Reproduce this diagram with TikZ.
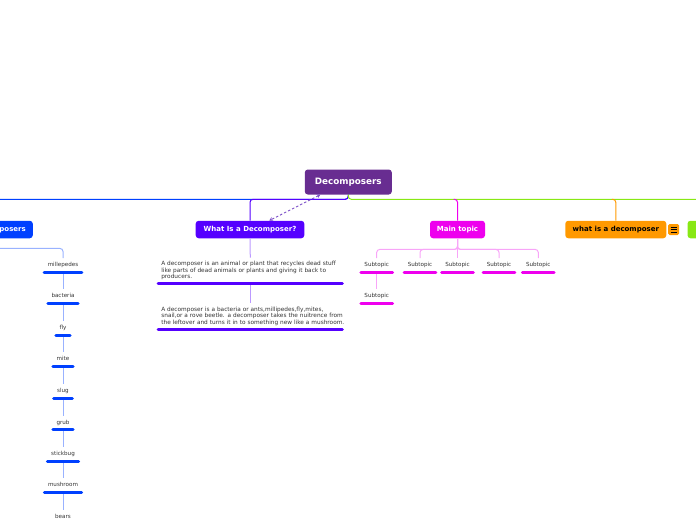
\documentclass[tikz,border=0pt]{standalone}
\usepackage{fontspec}
\setmainfont{DejaVu Sans}
\usetikzlibrary{arrows.meta,calc}
\definecolor{rootc}{RGB}{104,45,145}
\definecolor{bluec}{RGB}{0,64,255}
\definecolor{bluelight}{RGB}{153,178,255}
\definecolor{purplec}{RGB}{85,0,255}
\definecolor{purplelight}{RGB}{187,153,255}
\definecolor{magc}{RGB}{238,0,238}
\definecolor{maglight}{RGB}{248,165,248}
\definecolor{orangec}{RGB}{255,153,0}
\definecolor{greenc}{RGB}{136,232,20}
\definecolor{arrowc}{RGB}{125,80,200}
\definecolor{textc}{RGB}{51,51,51}
\begin{document}
\begin{tikzpicture}[x=1pt,y=-1pt,
  every node/.style={inner sep=0pt},
  rootbox/.style={fill=rootc, rounded corners=3pt, minimum width=87pt, minimum height=25pt, text=white, font=\fontsize{8.8}{10}\selectfont\bfseries},
  branchbox/.style={rounded corners=3pt, minimum height=17.5pt, text=white, font=\fontsize{7}{8}\selectfont\bfseries},
  leaf/.style={anchor=base, font=\fontsize{5.6}{6.5}\selectfont, text=textc, inner xsep=3.5pt, inner ysep=4.3pt, text height=4pt, text depth=1pt},
  block/.style={anchor=south, font=\fontsize{5.8}{6.5}\selectfont, text=textc, align=left, text width=178pt, inner xsep=2.9pt, inner ysep=3.5pt},
  conn/.style={line width=1pt, rounded corners=3pt},
  subconn/.style={line width=1pt, rounded corners=3pt},
  uline/.style={line width=3pt, line cap=round},
]
\useasboundingbox (0,0) rectangle (696,520);

% main nodes
\node[rootbox] (root) at (348.3,182) {Decomposers};
\node[branchbox, fill=bluec, anchor=east, inner xsep=7pt] (dec) at (33,229.5) {Examples of Decomposers};
\node[branchbox, fill=purplec, minimum width=108.6pt] (wd) at (250,229.5) {What Is a Decomposer?};
\node[branchbox, fill=magc, minimum width=55pt] (mt) at (457.5,229.5) {Main topic};
\node[branchbox, fill=orangec, text=black, minimum width=101pt] (wi) at (615.8,229.5) {what is a decomposer};
\node[fill=orangec, rounded corners=1.5pt, minimum size=11pt] (ic) at (673.7,229.5) {};
\node[branchbox, fill=greenc, minimum width=60pt, anchor=west] (gr) at (687.3,229.5) {};
\draw[black, line width=0.7pt] ($(ic.center)+(-3,-2.6)$) -- ($(ic.center)+(3,-2.6)$)
  ($(ic.center)+(-3,0)$) -- ($(ic.center)+(3,0)$)
  ($(ic.center)+(-3,2.6)$) -- ($(ic.center)+(3,2.6)$);

% main connectors
\coordinate (hub) at ($(root.south)+(0,4.6)$);
\draw[conn, bluec] (root.south) -- (hub) -| (dec.north);
\draw[conn, purplec] (root.south) -- (hub) -| (wd.north);
\draw[conn, greenc] (root.south) -- (hub) -| (gr.north);
\draw[conn, magc] ($(hub -| mt.north)+(-4,0)$) -| (mt.north);
\draw[conn, orangec] ($(hub -| wi.north)+(-4,0)$) -| (wi.north);

% dashed relation
\draw[dash pattern=on 2.5pt off 2pt, line width=0.9pt, arrowc,
  {Stealth[length=3.5pt,width=4pt]}-{Stealth[length=3.5pt,width=4pt]}]
  ([xshift=-28pt]root.south) -- ([xshift=19.3pt]wd.north);

% blue leaves
\node[leaf] (b1) at (63,266.7) {millepedes};
\node[leaf] (b2) at (63,297.7) {bacteria};
\node[leaf] (b3) at (63,329.7) {fly};
\node[leaf] (b4) at (63,360.7) {mite};
\node[leaf] (b5) at (63,392.7) {slug};
\node[leaf] (b6) at (63,424) {grub};
\node[leaf] (b7) at (63,455.7) {stickbug};
\node[leaf] (b8) at (63,486.7) {mushroom};
\node[leaf] (b9) at (63,518.4) {bears};
\draw[subconn, bluelight] (dec.south) -- ++(0,10) -| (b1.north);
\foreach \a/\b in {b1/b2,b2/b3,b3/b4,b4/b5,b5/b6,b6/b7,b7/b8,b8/b9}
  \draw[subconn, bluelight] (\a.south) -- (\b.north);
\foreach \n in {b1,b2,b3,b4,b5,b6,b7,b8,b9}
  \draw[uline, bluec] (\n.south west) -- (\n.south east);

% purple blocks
\node[block] (p1) at (250.3,283.7) {\mbox{A decomposer is an animal or plant that recycles dead stuff}\\\mbox{like parts of dead animals or plants and giving it back to}\\\mbox{producers.}};
\node[block] (p2) at (250.3,329) {\mbox{A decomposer is a bacteria or ants,millipedes,fly,mites,}\\\mbox{snail,or a rove beetle. a decomposer takes the nuitrence from}\\\mbox{the leftover and turns it in to something new like a mushroom.}};
\draw[subconn, purplelight] (wd.south) -- (p1.north);
\draw[subconn, purplelight] (p1.south) -- (p2.north);
\draw[uline, purplec] (p1.south west) -- (p1.south east);
\draw[uline, purplec] (p2.south west) -- (p2.south east);

% magenta subtopics
\node[leaf] (s1) at (376.7,266.7) {Subtopic};
\node[leaf] (s2) at (420,266.7) {Subtopic};
\node[leaf] (s3) at (457.5,266.7) {Subtopic};
\node[leaf] (s4) at (499,266.7) {Subtopic};
\node[leaf] (s5) at (538.3,266.7) {Subtopic};
\node[leaf] (s6) at (376.7,297.7) {Subtopic};
\foreach \n in {s1,s2,s4,s5}
  \draw[subconn, maglight] (mt.south) -- ++(0,11) -| (\n.north);
\draw[subconn, maglight] (mt.south) -- (s3.north);
\draw[subconn, maglight] (s1.south) -- (s6.north);
\foreach \n in {s1,s2,s3,s4,s5,s6}
  \draw[uline, magc] (\n.south west) -- (\n.south east);
\end{tikzpicture}
\end{document}
